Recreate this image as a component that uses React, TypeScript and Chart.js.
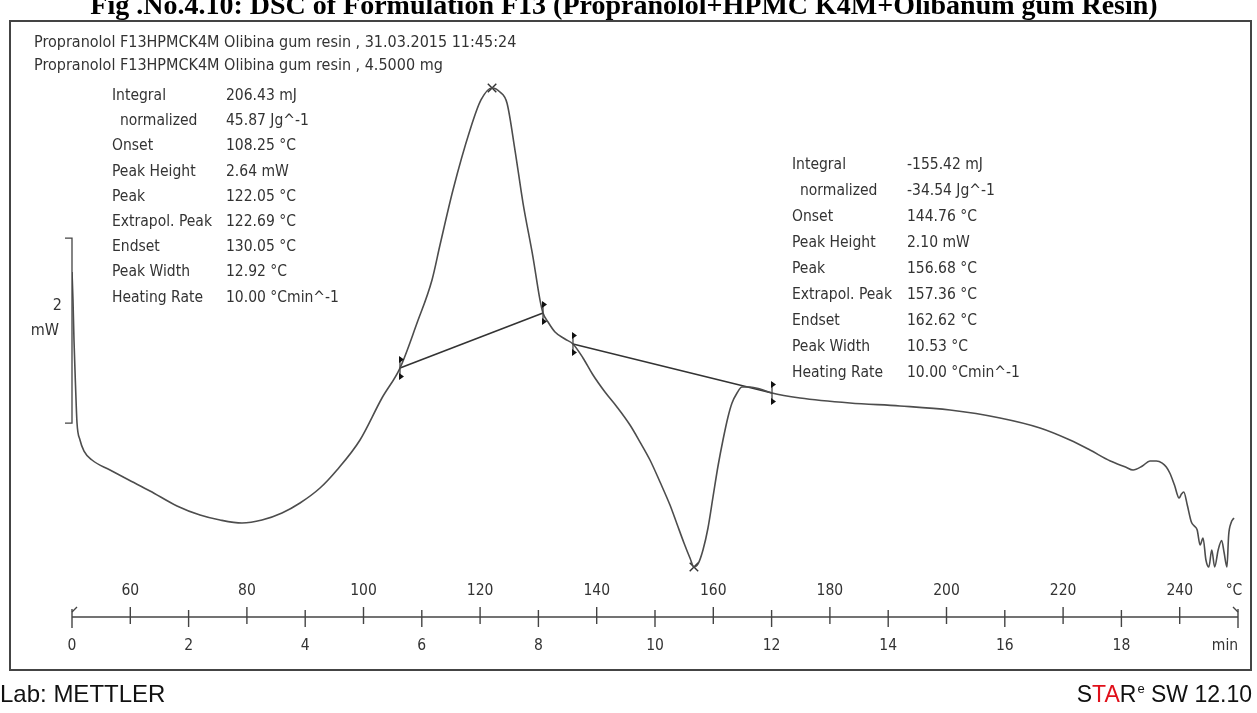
import { useEffect, useRef } from "react";
import { Chart, registerables } from "chart.js";

Chart.register(...registerables);

// DSC trace: time (min) vs heat flow (mW), exo up
const timeMin = [
  0.0, 0.017, 0.034, 0.06, 0.086, 0.137, 0.206, 0.343, 0.652, 0.943, 1.338, 1.801, 2.196, 2.539,
  2.916, 3.259, 3.602, 3.911, 4.254, 4.545, 4.94, 5.317, 5.626, 5.918, 6.175, 6.312, 6.535, 6.827,
  7.015, 7.205, 7.341, 7.461, 7.598, 7.736, 7.907, 8.027, 8.079, 8.165, 8.285, 8.456, 8.593, 8.765,
  8.937, 9.142, 9.348, 9.571, 9.743, 9.914, 10.086, 10.257, 10.377, 10.497, 10.6, 10.668, 10.738,
  10.823, 10.909, 10.995, 11.081, 11.166, 11.252, 11.321, 11.407, 11.492, 11.63, 11.801, 12.007,
  12.487, 13.345, 14.202, 15.06, 15.918, 16.604, 17.118, 17.461, 17.81, 18.07, 18.2, 18.36, 18.49,
  18.6, 18.7, 18.77, 18.83, 18.91, 18.99, 19.03, 19.07, 19.13, 19.2, 19.25, 19.3, 19.35, 19.4,
  19.45, 19.5, 19.55, 19.6, 19.66, 19.72, 19.76, 19.81, 19.84, 19.88, 19.93,
];
const heatFlow = [
  1.724, 1.422, 0.989, 0.503, 0.092, -0.092, -0.211, -0.308, -0.416, -0.514, -0.643, -0.805, -0.903,
  -0.957, -0.989, -0.957, -0.881, -0.773, -0.611, -0.416, -0.092, 0.362, 0.686, 1.173, 1.638, 2.016,
  2.611, 3.259, 3.584, 3.714, 3.67, 3.551, 3.043, 2.47, 1.886, 1.422, 1.281, 1.184, 1.076, 1.0, 0.946,
  0.795, 0.611, 0.427, 0.265, 0.07, -0.114, -0.308, -0.546, -0.795, -1.0, -1.205, -1.368, -1.465,
  -1.432, -1.281, -1.043, -0.708, -0.373, -0.092, 0.157, 0.308, 0.416, 0.481, 0.481, 0.459, 0.416,
  0.362, 0.308, 0.276, 0.232, 0.146, 0.038, -0.092, -0.2, -0.319, -0.384, -0.416, -0.373, -0.319,
  -0.319, -0.341, -0.384, -0.449, -0.578, -0.719, -0.676, -0.654, -0.795, -0.978, -1.022, -1.065,
  -1.227, -1.151, -1.389, -1.465, -1.281, -1.465, -1.281, -1.178, -1.303, -1.465, -1.119, -0.989,
  -0.935, -0.87,
];

// Integration limits (start/end of each peak baseline)
const limitTimes = [5.626, 8.079, 8.593, 12.007];
const limitFlows = [0.686, 1.281, 0.946, 0.416];

// Peak maxima
const peakTimes = [7.205, 10.668];
const peakFlows = [3.714, -1.465];

// Axis ticks
const tempTicks = [60, 80, 100, 120, 140, 160, 180, 200, 220, 240];
const timeTicks = [0, 2, 4, 6, 8, 10, 12, 14, 16, 18];
const startTemp = 50;
const heatingRate = 10;

// Scale bar (mW)
const scaleBarTop = 2.09;
const scaleBarSpan = 2;

const headerLines = [
  "Propranolol F13HPMCK4M Olibina gum resin , 31.03.2015 11:45:24",
  "Propranolol F13HPMCK4M Olibina gum resin , 4.5000 mg",
];

const peak1Labels = [
  "Integral", "  normalized", "Onset", "Peak Height", "Peak", "Extrapol. Peak", "Endset",
  "Peak Width", "Heating Rate",
];
const peak1Values = [
  "206.43 mJ", "45.87 Jg^-1", "108.25 °C", "2.64 mW", "122.05 °C", "122.69 °C", "130.05 °C",
  "12.92 °C", "10.00 °Cmin^-1",
];
const peak2Labels = peak1Labels;
const peak2Values = [
  "-155.42 mJ", "-34.54 Jg^-1", "144.76 °C", "2.10 mW", "156.68 °C", "157.36 °C", "162.62 °C",
  "10.53 °C", "10.00 °Cmin^-1",
];

const titleText =
  "Fig .No.4.10: DSC of Formulation F13 (Propranolol+HPMC K4M+Olibanum gum Resin)";

const FONT = '"DejaVu Sans Condensed", "DejaVu Sans", sans-serif';
const SANS = '"Liberation Sans", Arial, sans-serif';

const decorPlugin = {
  id: "dscDecor",
  afterDraw(chart: any) {
    const ctx: CanvasRenderingContext2D = chart.ctx;
    const xs = chart.scales.x;
    const ys = chart.scales.y;
    ctx.save();

    // title (clipped at top edge)
    ctx.fillStyle = "#000";
    ctx.font = 'bold 28px "Liberation Serif", serif';
    ctx.textAlign = "center";
    ctx.textBaseline = "alphabetic";
    ctx.fillText(titleText, 624, 14);

    // frame
    ctx.strokeStyle = "#444";
    ctx.lineWidth = 2;
    ctx.strokeRect(10, 21, 1241, 649);

    // header
    ctx.font = `16px ${FONT}`;
    ctx.fillStyle = "#333";
    ctx.textAlign = "left";
    ctx.textBaseline = "middle";
    headerLines.forEach((s, i) => ctx.fillText(s, 34, 43 + i * 23));

    // results tables
    ctx.font = `15.5px ${FONT}`;
    const table = (labels: string[], values: string[], lx: number, vx: number, y0: number, dy: number) => {
      labels.forEach((l, i) => {
        ctx.fillText(l.trim(), l.startsWith(" ") ? lx + 8 : lx, y0 + i * dy);
        ctx.fillText(values[i], vx, y0 + i * dy);
      });
    };
    table(peak1Labels, peak1Values, 112, 226, 96, 25.2);
    table(peak2Labels, peak2Values, 792, 907, 165, 26);

    // scale bar
    const bx = xs.getPixelForValue(0);
    const bt = ys.getPixelForValue(scaleBarTop);
    const bb = ys.getPixelForValue(scaleBarTop - scaleBarSpan);
    ctx.strokeStyle = "#444";
    ctx.lineWidth = 1.3;
    ctx.beginPath();
    ctx.moveTo(bx - 7, bt);
    ctx.lineTo(bx, bt);
    ctx.lineTo(bx, bb);
    ctx.lineTo(bx - 7, bb);
    ctx.stroke();
    ctx.textAlign = "right";
    ctx.font = `16px ${FONT}`;
    const bm = (bt + bb) / 2;
    ctx.fillText(String(scaleBarSpan), 62, bm - 25);
    ctx.fillText("mW", 59, bm);

    // limit markers
    ctx.fillStyle = "#111";
    limitTimes.forEach((t, i) => {
      const px = xs.getPixelForValue(t);
      const py = ys.getPixelForValue(limitFlows[i]);
      ctx.beginPath();
      ctx.moveTo(px, py - 11);
      ctx.lineTo(px, py + 11);
      ctx.stroke();
      [-1, 1].forEach((s) => {
        ctx.beginPath();
        ctx.moveTo(px - 1, py + s * 12);
        ctx.lineTo(px + 4, py + s * 8.5);
        ctx.lineTo(px - 1, py + s * 5);
        ctx.closePath();
        ctx.fill();
      });
    });

    // time / temperature axis
    const ay = 617;
    const x0 = xs.getPixelForValue(0);
    const x1 = xs.getPixelForValue(20);
    ctx.strokeStyle = "#444";
    ctx.lineWidth = 1.4;
    ctx.beginPath();
    ctx.moveTo(x0, ay);
    ctx.lineTo(x1, ay);
    ctx.stroke();
    for (let t = 0; t <= 20; t++) {
      const px = xs.getPixelForValue(t);
      ctx.beginPath();
      if (t === 0 || t === 20) {
        ctx.moveTo(px, ay - 8);
        ctx.lineTo(px, ay + 11);
      } else if (t % 2 === 0) {
        ctx.moveTo(px, ay - 7);
        ctx.lineTo(px, ay + 10);
      } else {
        ctx.moveTo(px, ay - 10);
        ctx.lineTo(px, ay + 7);
      }
      ctx.stroke();
    }
    ctx.beginPath();
    ctx.moveTo(x0, ay - 5);
    ctx.lineTo(x0 + 5, ay - 10);
    ctx.moveTo(x1, ay - 5);
    ctx.lineTo(x1 - 5, ay - 10);
    ctx.stroke();

    ctx.fillStyle = "#333";
    ctx.font = `15.5px ${FONT}`;
    ctx.textAlign = "center";
    tempTicks.forEach((T) => {
      ctx.fillText(String(T), xs.getPixelForValue((T - startTemp) / heatingRate), 591);
    });
    timeTicks.forEach((t) => {
      ctx.fillText(String(t), xs.getPixelForValue(t), 646);
    });
    ctx.fillText("°C", x1 - 4, 591);
    ctx.fillText("min", x1 - 13, 646);

    // footer
    ctx.fillStyle = "#111";
    ctx.textAlign = "left";
    ctx.textBaseline = "alphabetic";
    ctx.font = `24px ${SANS}`;
    ctx.fillText("Lab: METTLER", 0, 702);

    const parts: [string, string][] = [
      ["S", "#111"],
      ["TA", "#e0101a"],
      ["R", "#111"],
    ];
    const big = `23px ${SANS}`;
    const small = `13px ${SANS}`;
    const tail = " SW 12.10";
    ctx.font = big;
    let w = 0;
    parts.forEach(([s]) => (w += ctx.measureText(s).width));
    const tailW = ctx.measureText(tail).width;
    ctx.font = small;
    const eW = ctx.measureText("e").width + 1;
    let cx = 1252 - (w + tailW + eW);
    ctx.font = big;
    parts.forEach(([s, c]) => {
      ctx.fillStyle = c;
      ctx.fillText(s, cx, 702);
      cx += ctx.measureText(s).width;
    });
    ctx.font = small;
    ctx.fillStyle = "#111";
    ctx.fillText("e", cx + 1, 693);
    cx += eW;
    ctx.font = big;
    ctx.fillText(tail, cx, 702);

    ctx.restore();
  },
};

export default function App() {
  const ref = useRef<HTMLCanvasElement>(null);

  useEffect(() => {
    const canvas = ref.current;
    if (!canvas) return;
    const curve = timeMin.map((t, i) => ({ x: t, y: heatFlow[i] }));
    const chart = new Chart(canvas, {
      type: "scatter",
      data: {
        datasets: [
          {
            data: curve,
            showLine: true,
            borderColor: "#4d4d4d",
            borderWidth: 1.6,
            pointRadius: 0,
            cubicInterpolationMode: "monotone",
          } as any,
          {
            data: [
              { x: limitTimes[0], y: limitFlows[0] },
              { x: limitTimes[1], y: limitFlows[1] },
            ],
            showLine: true,
            borderColor: "#333",
            borderWidth: 1.6,
            pointRadius: 0,
          },
          {
            data: [
              { x: limitTimes[2], y: limitFlows[2] },
              { x: limitTimes[3], y: limitFlows[3] },
            ],
            showLine: true,
            borderColor: "#333",
            borderWidth: 1.6,
            pointRadius: 0,
          },
          {
            data: peakTimes.map((t, i) => ({ x: t, y: peakFlows[i] })),
            showLine: false,
            pointStyle: "crossRot",
            pointRadius: 6,
            borderColor: "#333",
            borderWidth: 1.4,
          },
        ],
      },
      options: {
        animation: false,
        responsive: false,
        devicePixelRatio: 1,
        layout: { padding: { left: 72, right: 19, top: 80, bottom: 133.5 } },
        scales: {
          x: { type: "linear", min: 0, max: 20, display: false },
          y: { type: "linear", min: -1.6, max: 3.8, display: false },
        },
        plugins: { legend: { display: false }, tooltip: { enabled: false } },
      },
      plugins: [decorPlugin],
    });
    return () => chart.destroy();
  }, []);

  return (
    <div style={{ position: "fixed", left: 0, top: 0, width: 1257, height: 713, background: "#fff" }}>
      <canvas ref={ref} width={1257} height={713} style={{ display: "block" }} />
    </div>
  );
}
